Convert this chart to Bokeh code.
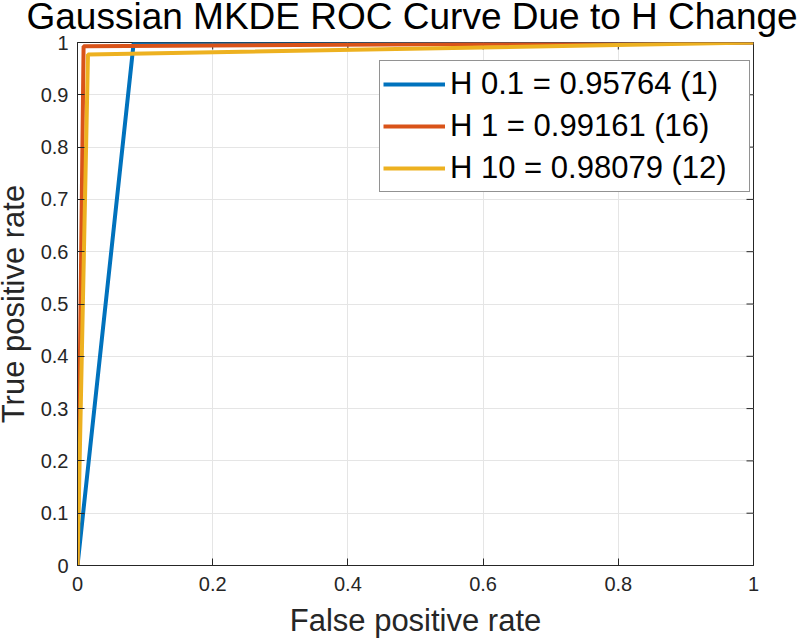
import math
from bokeh.plotting import figure
from bokeh.models import Range1d, Legend, LegendItem, FixedTicker
from bokeh.embed import file_html
from bokeh.resources import INLINE

# ROC data
fpr_h01 = [0.0, 0.083, 1.0]
tpr_h01 = [0.0, 0.998, 1.0]
fpr_h1 = [0.0, 0.009, 1.0]
tpr_h1 = [0.0, 0.993, 1.0]
fpr_h10 = [0.0, 0.0155, 1.0]
tpr_h10 = [0.0, 0.977, 1.0]

labels = ["H 0.1 = 0.95764 (1)", "H 1 = 0.99161 (16)", "H 10 = 0.98079 (12)"]
colors = ["#0072BD", "#D95319", "#EDB120"]
x_ticks = [0, 0.2, 0.4, 0.6, 0.8, 1]
y_ticks = [0, 0.1, 0.2, 0.3, 0.4, 0.5, 0.6, 0.7, 0.8, 0.9, 1]

FONT = "Liberation Sans"
TXT = "#262626"

p = figure(width=815, height=658, output_backend="svg", toolbar_location=None,
           x_range=Range1d(0, 1), y_range=Range1d(0, 1),
           min_border_left=84, min_border_right=54, min_border_top=56, min_border_bottom=79,
           x_axis_label="False positive rate", y_axis_label="True positive rate",
           title="Gaussian MKDE ROC Curve Due to H Change")
p.styles = {"margin-left": "-8px", "margin-top": "-14px"}
p.background_fill_color = "white"
p.border_fill_color = "white"
p.outline_line_color = TXT
p.outline_line_width = 1

p.title.text_font = FONT
p.title.text_font_size = "37px"
p.title.text_font_style = "normal"
p.title.text_color = "black"
p.title.align = "left"
p.title.offset = -51
p.title.vertical_align = "bottom"
p.title.standoff = 12

p.xaxis.ticker = FixedTicker(ticks=x_ticks)
p.yaxis.ticker = FixedTicker(ticks=y_ticks)
p.xaxis.major_label_overrides = {0: "0", 1: "1"}
p.yaxis.major_label_overrides = {0: "0", 1: "1"}

for ax in [p.xaxis[0], p.yaxis[0]]:
    ax.major_tick_in = 7
    ax.major_tick_out = 0
    ax.minor_tick_in = 0
    ax.minor_tick_out = 0
    ax.axis_line_color = TXT
    ax.major_tick_line_color = TXT
    ax.major_label_text_font = FONT
    ax.major_label_text_font_size = "20px"
    ax.major_label_text_color = TXT
    ax.axis_label_text_font = FONT
    ax.axis_label_text_font_size = "31px"
    ax.axis_label_text_font_style = "normal"
    ax.axis_label_text_color = TXT
p.xaxis.major_label_standoff = 11
p.yaxis.major_label_standoff = 9
p.xaxis.axis_label_standoff = 9
p.yaxis.axis_label_standoff = 7

p.xgrid.grid_line_color = "#E5E5E5"
p.ygrid.grid_line_color = "#E5E5E5"

# inward tick marks on the top and right edges of the box (half of each dash is clipped by the frame)
p.scatter(x=x_ticks, y=[1] * len(x_ticks), marker="dash", angle=math.pi / 2, size=14,
          line_color=TXT, line_width=1)
p.scatter(x=[1] * len(y_ticks), y=y_ticks, marker="dash", size=14,
          line_color=TXT, line_width=1)

r1 = p.line(fpr_h01, tpr_h01, line_color=colors[0], line_width=4)
r2 = p.line(fpr_h1, tpr_h1, line_color=colors[1], line_width=4)
r3 = p.line(fpr_h10, tpr_h10, line_color=colors[2], line_width=4)

legend = Legend(items=[LegendItem(label=labels[0], renderers=[r1]),
                       LegendItem(label=labels[1], renderers=[r2]),
                       LegendItem(label=labels[2], renderers=[r3])],
                location=(302, 373),
                label_text_font=FONT, label_text_font_size="31px", label_text_color="black",
                glyph_width=62, glyph_height=40, label_height=40, spacing=2,
                padding=3, label_standoff=5, label_width=296,
                border_line_color=TXT, border_line_width=1,
                background_fill_color="white", background_fill_alpha=1.0)
p.add_layout(legend)

open("out.html", "w").write(file_html(p, INLINE))
